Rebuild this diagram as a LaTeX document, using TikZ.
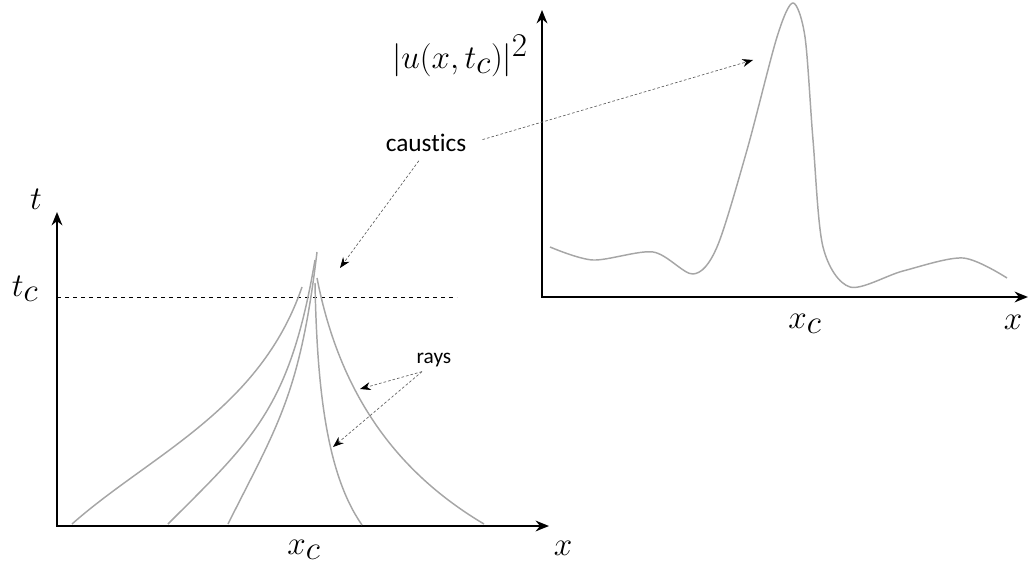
\documentclass[tikz,border=0pt]{standalone}
\usepackage{fontspec}
\newfontfamily\notefont[Ligatures=NoCommon]{Carlito}
\usetikzlibrary{arrows.meta}

\begin{document}
\begin{tikzpicture}[
    x=0.75pt, y=-0.75pt,
    axis/.style={line width=2.2pt, {Stealth[length=10pt,width=8pt]}-{Stealth[length=10pt,width=8pt]}},
    ray/.style={gray!70, line width=1.1pt},
    note/.style={gray!75!black, line width=0.5pt, dash pattern=on 2pt off 1.5pt,
                 -{Stealth[black,length=8pt,width=6pt]}},
    mlab/.style={font=\fontsize{33}{40}\selectfont},
    tlab/.style={font=\notefont\fontsize{19}{23}\selectfont}
]
\useasboundingbox (0,0) rectangle (1030,573);

% left: rays in the (x,t) plane
\coordinate (o1) at (57,526);
\coordinate (ttip) at (57,212);
\coordinate (xtip1) at (549,526);
\draw[axis] (ttip) -- (o1) -- (xtip1);
\node[mlab] (tlab) at (36,199) {$t$};
\node[mlab] (tclab) at (25,289) {$t_c$};
\node[mlab] (xclab1) at (304,550) {$x_c$};
\node[mlab] (xlab1) at (563,548) {$x$};
\coordinate (tc0) at (57,297);
\coordinate (tc1) at (457,297);
\draw[dashed, line width=0.6pt] (tc0) -- (tc1);

\draw[ray] (72,524) .. controls (150,455) and (260,410) .. (302,287);
\draw[ray] (168,524) .. controls (253,439) and (290,408) .. (315,260);
\draw[ray] (228,524) .. controls (277,426) and (300,395) .. (317,252);
\draw[ray] (315,283) .. controls (317,390) and (327,475) .. (362,525);
\draw[ray] (317,278) .. controls (340,396) and (398,473) .. (484,524);

% right: intensity at t_c
\coordinate (o2) at (542,297);
\coordinate (utip) at (542,10);
\coordinate (xtip2) at (1028,297);
\draw[axis] (utip) -- (o2) -- (xtip2);
\node[mlab] (ulab) at (460,56) {$|u(x,t_c)|^2$};
\node[mlab] (xclab2) at (805,324) {$x_c$};
\node[mlab] (xlab2) at (1013,322) {$x$};
\draw[ray] plot[smooth] coordinates {(550,247) (593,260) (653,252) (693,274) (717,247) (747,150) (777,37) (793,3) (805,37) (813,140) (823,247) (850,287) (903,271) (963,258) (1007,278)};

% annotations
\node[tlab] (caus) at (426,143) {caustics};
\coordinate (peak) at (753,60);
\coordinate (cusp) at (340,268);
\draw[note, shorten <=9pt] (caus.east) -- (peak);
\draw[note, shorten <=4pt] ([xshift=-3pt]caus.south) -- (cusp);

\node[tlab, font=\notefont\fontsize{16}{19}\selectfont] (rays) at (434,360) {rays};
\coordinate (r1) at (360,389);
\coordinate (r2) at (333,447);
\draw[note] ([xshift=-9pt]rays.south) -- (r1);
\draw[note] ([xshift=-9pt]rays.south) -- (r2);
\end{tikzpicture}
\end{document}
